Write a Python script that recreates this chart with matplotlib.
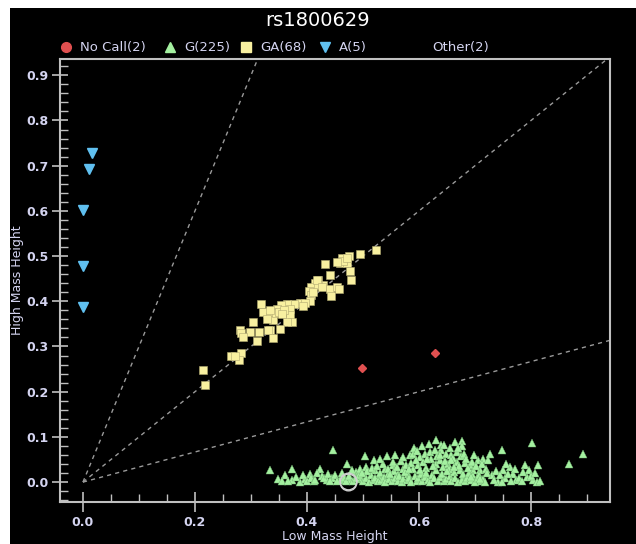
import matplotlib
matplotlib.use("Agg")
import matplotlib.pyplot as plt
from matplotlib.lines import Line2D
from matplotlib.patches import Rectangle
from matplotlib.ticker import MultipleLocator

title = "rs1800629"
x_label = "Low Mass Height"
y_label = "High Mass Height"
legend_labels = ["No Call(2)", "G(225)", "GA(68)", "A(5)", "Other(2)"]

nocall_x = [0.498, 0.628]
nocall_y = [0.252, 0.285]

a_x = [0.016, 0.011, 0.000, 0.000, 0.000]
a_y = [0.728, 0.692, 0.602, 0.478, 0.387]

other_x = [0.473, 0.474]
other_y = [0.002, 0.000]

ga_x = [0.523, 0.495, 0.475, 0.462, 0.459, 0.471, 0.465, 0.433, 0.476, 0.441,
        0.479, 0.419, 0.414, 0.408, 0.404, 0.407, 0.406, 0.429, 0.441, 0.453,
        0.457, 0.442, 0.420, 0.388, 0.376, 0.364, 0.369, 0.353, 0.346, 0.337,
        0.328, 0.322, 0.334, 0.340, 0.317, 0.369, 0.373, 0.364, 0.352, 0.334,
        0.304, 0.280, 0.283, 0.298, 0.315, 0.331, 0.286, 0.310, 0.340, 0.283,
        0.265, 0.279, 0.272, 0.215, 0.218, 0.344, 0.350, 0.359, 0.334, 0.329,
        0.397, 0.411, 0.417, 0.426, 0.453, 0.471, 0.392, 0.356]
ga_y = [0.513, 0.504, 0.500, 0.495, 0.484, 0.484, 0.489, 0.482, 0.467, 0.459,
        0.447, 0.448, 0.440, 0.432, 0.423, 0.414, 0.400, 0.436, 0.428, 0.431,
        0.428, 0.412, 0.436, 0.397, 0.395, 0.394, 0.384, 0.392, 0.384, 0.377,
        0.373, 0.377, 0.366, 0.358, 0.395, 0.369, 0.355, 0.355, 0.338, 0.336,
        0.355, 0.336, 0.329, 0.333, 0.333, 0.336, 0.322, 0.312, 0.319, 0.285,
        0.279, 0.271, 0.278, 0.248, 0.215, 0.373, 0.377, 0.380, 0.380, 0.360,
        0.397, 0.421, 0.447, 0.432, 0.487, 0.495, 0.389, 0.371]

g_x = [0.630, 0.640, 0.664, 0.677, 0.677, 0.655, 0.801, 0.749, 0.893, 0.868,
       0.447, 0.471, 0.504, 0.520, 0.334, 0.349, 0.361, 0.374, 0.374, 0.387,
       0.396, 0.405, 0.423, 0.426, 0.435, 0.444, 0.459, 0.477, 0.488, 0.497,
       0.506, 0.521, 0.530, 0.539, 0.554, 0.563, 0.572, 0.581, 0.584, 0.590,
       0.599, 0.602, 0.611, 0.619, 0.622, 0.631, 0.637, 0.643, 0.649, 0.658,
       0.667, 0.673, 0.679, 0.691, 0.697, 0.709, 0.706, 0.715, 0.724, 0.727,
       0.730, 0.741, 0.750, 0.753, 0.762, 0.768, 0.774, 0.789, 0.792, 0.804,
       0.813, 0.810,
       0.500, 0.505, 0.510, 0.514, 0.518, 0.522, 0.526, 0.530, 0.533, 0.537,
       0.540, 0.544, 0.547, 0.551, 0.555, 0.558, 0.562, 0.565, 0.569, 0.572,
       0.575, 0.579, 0.582, 0.586, 0.589, 0.592, 0.596, 0.599, 0.603, 0.606,
       0.610, 0.613, 0.616, 0.620, 0.623, 0.627, 0.630, 0.634, 0.637, 0.641,
       0.644, 0.648, 0.651, 0.655, 0.658, 0.662, 0.665, 0.669, 0.672, 0.676,
       0.679, 0.683, 0.686, 0.690, 0.693, 0.697, 0.700, 0.704, 0.707, 0.711,
       0.714, 0.718,
       0.508, 0.516, 0.525, 0.535, 0.545, 0.553, 0.560, 0.567, 0.577, 0.585,
       0.594, 0.601, 0.608, 0.615, 0.625, 0.633, 0.640, 0.646, 0.653, 0.660,
       0.668, 0.675, 0.682, 0.688, 0.695, 0.702, 0.712, 0.720,
       0.400, 0.408, 0.412, 0.418, 0.430, 0.438, 0.441, 0.450, 0.453, 0.462,
       0.466, 0.470, 0.475, 0.480, 0.483, 0.487, 0.492, 0.495, 0.498, 0.356,
       0.366, 0.380, 0.392, 0.414,
       0.722, 0.733, 0.737, 0.745, 0.748, 0.756, 0.759, 0.765, 0.771, 0.779,
       0.784, 0.786, 0.796, 0.800, 0.807, 0.816,
       0.531, 0.542, 0.548, 0.557, 0.571, 0.583, 0.591, 0.597, 0.605, 0.612,
       0.618, 0.628, 0.638, 0.645, 0.650, 0.657, 0.663, 0.670, 0.680, 0.684,
       0.692, 0.699, 0.708]
g_y = [0.094, 0.082, 0.089, 0.091, 0.080, 0.075, 0.086, 0.072, 0.063, 0.040,
       0.072, 0.040, 0.058, 0.049, 0.027, 0.006, 0.015, 0.028, 0.004, 0.001,
       0.006, 0.018, 0.028, 0.013, 0.004, 0.010, 0.004, 0.004, 0.023, 0.006,
       0.034, 0.026, 0.015, 0.030, 0.037, 0.019, 0.030, 0.019, 0.060, 0.063,
       0.037, 0.056, 0.063, 0.067, 0.052, 0.041, 0.048, 0.034, 0.063, 0.060,
       0.045, 0.026, 0.012, 0.037, 0.026, 0.026, 0.048, 0.052, 0.048, 0.063,
       0.015, 0.001, 0.026, 0.008, 0.034, 0.019, 0.004, 0.037, 0.012, 0.004,
       0.037, 0.001,
       0.002, 0.010, 0.001, 0.015, 0.004, 0.008, 0.002, 0.020, 0.005, 0.011,
       0.001, 0.017, 0.006, 0.002, 0.024, 0.009, 0.003, 0.013, 0.001, 0.007,
       0.022, 0.004, 0.010, 0.001, 0.028, 0.014, 0.003, 0.008, 0.019, 0.002,
       0.012, 0.031, 0.005, 0.001, 0.016, 0.008, 0.026, 0.003, 0.011, 0.019,
       0.002, 0.007, 0.040, 0.014, 0.003, 0.022, 0.009, 0.001, 0.035, 0.005,
       0.017, 0.002, 0.010, 0.021, 0.004, 0.013, 0.001, 0.008, 0.016, 0.003,
       0.006, 0.001,
       0.025, 0.032, 0.036, 0.041, 0.029, 0.044, 0.033, 0.046, 0.038, 0.043,
       0.050, 0.027, 0.044, 0.051, 0.035, 0.057, 0.072, 0.046, 0.028, 0.054,
       0.067, 0.057, 0.042, 0.031, 0.045, 0.036, 0.040, 0.028,
       0.002, 0.010, 0.003, 0.021, 0.008, 0.018, 0.002, 0.015, 0.003, 0.020,
       0.008, 0.002, 0.014, 0.026, 0.002, 0.009, 0.016, 0.030, 0.020, 0.002,
       0.003, 0.012, 0.015, 0.004,
       0.020, 0.005, 0.024, 0.015, 0.001, 0.040, 0.018, 0.002, 0.030, 0.010,
       0.002, 0.022, 0.026, 0.013, 0.020, 0.002,
       0.052, 0.058, 0.018, 0.060, 0.055, 0.030, 0.075, 0.068, 0.080, 0.021,
       0.084, 0.070, 0.061, 0.083, 0.024, 0.048, 0.033, 0.075, 0.063, 0.052,
       0.012, 0.060, 0.006]

guide_slopes = [3.0, 1.0, 1.0 / 3.0]

c_red = "#e05050"
c_green = "#a4f0a0"
c_yellow = "#f8f0a0"
c_blue = "#60c0f0"
c_text = "#d4d4f0"
c_spine = "#c0c0c0"

W, H = 636, 544
fig = plt.figure(figsize=(W / 100, H / 100), dpi=100, facecolor="white")
fig.patches.append(Rectangle((10 / W, 0), 626 / W, 536 / H, transform=fig.transFigure,
                             facecolor="black", edgecolor="none", zorder=-10))

ax = fig.add_axes([60 / W, 42 / H, 550 / W, 443 / H])
ax.set_facecolor("black")
xmin, xmax = -0.041, 0.941
ymin, ymax = -0.044, 0.936
ax.set_xlim(xmin, xmax)
ax.set_ylim(ymin, ymax)

for s in guide_slopes:
    xe = min(xmax, ymax / s)
    ax.plot([0, xe], [0, xe * s], color="#9a9a9a", lw=1.0, ls=(0, (3, 3)), zorder=1)

ax.plot(g_x, g_y, ls="none", marker="^", ms=6.3, mfc=c_green, mec="#70b070", mew=0.3, zorder=3)
ax.plot(ga_x, ga_y, ls="none", marker="s", ms=5.5, mfc=c_yellow, mec="#b0a870", mew=0.4, zorder=3)
ax.plot(a_x, a_y, ls="none", marker="v", ms=6.5, mfc=c_blue, mec=c_blue, zorder=3)
ax.plot(nocall_x, nocall_y, ls="none", marker="D", ms=4, mfc=c_red, mec=c_red, zorder=3)
ax.plot(other_x, other_y, ls="none", marker="o", ms=12, mfc="none", mec="#d0d0d0", mew=1.0, zorder=4)

for sp in ax.spines.values():
    sp.set_color(c_spine)
    sp.set_linewidth(1.5)

ax.xaxis.set_major_locator(MultipleLocator(0.2))
ax.xaxis.set_minor_locator(MultipleLocator(0.05))
ax.yaxis.set_major_locator(MultipleLocator(0.1))
ax.yaxis.set_minor_locator(MultipleLocator(0.02))
ax.tick_params(axis="x", which="major", direction="inout", length=14, width=1.2,
               color=c_spine, labelcolor=c_text, labelsize=9, pad=3)
ax.tick_params(axis="y", which="major", direction="inout", length=12, width=1.2,
               color=c_spine, labelcolor=c_text, labelsize=9, pad=2)
ax.tick_params(axis="both", which="minor", direction="in", length=6, width=1.0, color=c_spine)
ax.set_xticks([0.0, 0.2, 0.4, 0.6, 0.8])
ax.set_xticklabels(["0.0", "0.2", "0.4", "0.6", "0.8"], fontweight="bold")
ax.set_yticks([0.0, 0.1, 0.2, 0.3, 0.4, 0.5, 0.6, 0.7, 0.8, 0.9])
ax.set_yticklabels(["0.0", "0.1", "0.2", "0.3", "0.4", "0.5", "0.6", "0.7", "0.8", "0.9"],
                   fontweight="bold")

ax.set_xlabel(x_label, color=c_text, fontsize=9, labelpad=1)
ax.set_ylabel(y_label, color=c_text, fontsize=9, labelpad=2)

fig.text(0.5, 1 - 20 / H, title, color="white", fontsize=14, ha="center", va="center")

leg_y = 1 - 47 / H
markers = [("o", c_red), ("^", c_green), ("s", c_yellow), ("v", c_blue), (None, None)]
mx = [66, 170, 246, 325, None]
tx = [80, 184, 260, 339, 432]
for lab, (m, c), m_x, t_x in zip(legend_labels, markers, mx, tx):
    if m is not None:
        fig.add_artist(Line2D([m_x / W], [leg_y], transform=fig.transFigure, ls="none",
                              marker=m, ms=7, mfc=c, mec=c))
    fig.text(t_x / W, leg_y, lab, color=c_text, fontsize=9.5, ha="left", va="center")

fig.savefig("out.png", dpi=100, facecolor=fig.get_facecolor())
